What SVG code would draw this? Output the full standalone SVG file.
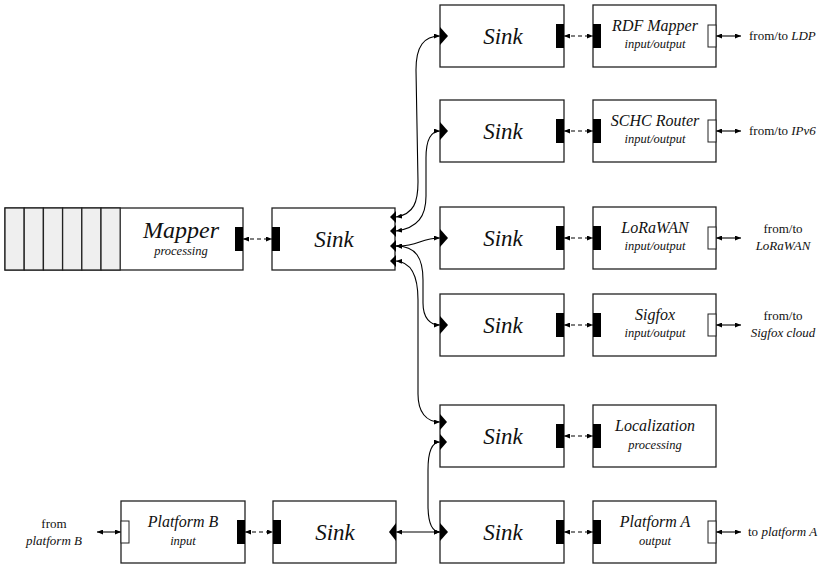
<svg xmlns="http://www.w3.org/2000/svg" width="822" height="565" viewBox="0 0 822 565">
<defs>
<marker id="ah" viewBox="0 0 10 10" refX="10" refY="5" markerWidth="6" markerHeight="5" markerUnits="userSpaceOnUse" orient="auto-start-reverse" preserveAspectRatio="none">
<path d="M0,0 L10,5 L0,10 Z" fill="#000"/>
</marker>
</defs>

<g id="connectors" fill="none" stroke="#000" stroke-width="1.1" marker-start="url(#ah)" marker-end="url(#ah)">
<g stroke-dasharray="4 3" stroke-width="1.2">
<line x1="243" y1="239" x2="272" y2="239"/>
<line x1="564" y1="36" x2="593" y2="36"/>
<line x1="564" y1="131" x2="593" y2="131"/>
<line x1="564" y1="238" x2="593" y2="238"/>
<line x1="564" y1="325" x2="593" y2="325"/>
<line x1="564" y1="436" x2="593" y2="436"/>
<line x1="564" y1="532" x2="593" y2="532"/>
<line x1="245" y1="532" x2="273" y2="532"/>
</g>
<line x1="716" y1="36" x2="741" y2="36"/>
<line x1="716" y1="131" x2="741" y2="131"/>
<line x1="716" y1="238" x2="741" y2="238"/>
<line x1="716" y1="325" x2="741" y2="325"/>
<line x1="716" y1="532" x2="741" y2="532"/>
<line x1="97" y1="532" x2="121" y2="532"/>
<line x1="396" y1="532" x2="440" y2="532"/>
<path d="M396,217 C414,214 418,202 418,182 L416,70 C416,46 424,36 440,36"/>
<path d="M396,231 C418,228 426,216 426,196 L426,158 C426,140 430,131 440,131"/>
<path d="M396,246 C418,247 420,238 440,238"/>
<path d="M396,246 C416,246 423,258 423,280 L423,303 C423,318 430,325 440,325"/>
<path d="M396,261 C412,262 418,276 418,300 L418,394 C418,412 426,422 440,422"/>
<path d="M440,442 C432,442 428,452 428,470 L428,505 C428,522 432,532 440,532"/>
</g>

<g id="mapper">
<rect x="5" y="208" width="238" height="62" fill="#fff" stroke="#222" stroke-width="1.3"/>
<g fill="#efefef" stroke="#222" stroke-width="1.3">
<rect x="5" y="208" width="19.2" height="62"/>
<rect x="24.2" y="208" width="19.2" height="62"/>
<rect x="43.4" y="208" width="19.2" height="62"/>
<rect x="62.6" y="208" width="19.2" height="62"/>
<rect x="81.8" y="208" width="19.2" height="62"/>
<rect x="101" y="208" width="19.2" height="62"/>
</g>
<rect x="235" y="227" width="8" height="24" fill="#000"/>
<text x="181" y="238" font-family="Liberation Serif" font-style="italic" font-size="24" text-anchor="middle" fill="#111">Mapper</text>
<text x="181" y="255" font-family="Liberation Serif" font-style="italic" font-size="12.5" text-anchor="middle" fill="#111">processing</text>
</g>

<g id="sink-center">
<rect x="272" y="208" width="123" height="62" fill="#fff" stroke="#222" stroke-width="1.3"/>
<rect x="272" y="227" width="8" height="24" fill="#000"/>
<polygon points="396,211 390,217 396,223" fill="#000"/>
<polygon points="396,225 390,231 396,237" fill="#000"/>
<polygon points="396,240 390,246 396,252" fill="#000"/>
<polygon points="396,255 390,261 396,267" fill="#000"/>
<text x="334" y="247" font-family="Liberation Serif" font-style="italic" font-size="23" text-anchor="middle" fill="#111">Sink</text>
</g>

<g id="sink1">
<rect x="440" y="5" width="124" height="62" fill="#fff" stroke="#222" stroke-width="1.3"/>
<polygon points="440,27 448,36 440,45" fill="#000"/>
<rect x="556" y="24" width="8" height="24" fill="#000"/>
<text x="503" y="44" font-family="Liberation Serif" font-style="italic" font-size="23" text-anchor="middle" fill="#111">Sink</text>
</g>
<g id="rdf-mapper">
<rect x="593" y="5" width="123" height="62" fill="#fff" stroke="#222" stroke-width="1.3"/>
<rect x="593" y="24" width="8" height="24" fill="#000"/>
<rect x="708" y="25" width="8" height="22" fill="#fff" stroke="#222"/>
<text x="655" y="31" font-family="Liberation Serif" font-style="italic" font-size="16" text-anchor="middle" fill="#111">RDF Mapper</text>
<text x="655" y="48" font-family="Liberation Serif" font-style="italic" font-size="12.5" text-anchor="middle" fill="#111">input/output</text>
</g>
<text x="749" y="40" font-family="Liberation Serif" font-size="13" fill="#111">from/to <tspan font-style="italic">LDP</tspan></text>

<g id="sink2">
<rect x="440" y="100" width="124" height="62" fill="#fff" stroke="#222" stroke-width="1.3"/>
<polygon points="440,122 448,131 440,140" fill="#000"/>
<rect x="556" y="119" width="8" height="24" fill="#000"/>
<text x="503" y="139" font-family="Liberation Serif" font-style="italic" font-size="23" text-anchor="middle" fill="#111">Sink</text>
</g>
<g id="schc-router">
<rect x="593" y="100" width="123" height="62" fill="#fff" stroke="#222" stroke-width="1.3"/>
<rect x="593" y="119" width="8" height="24" fill="#000"/>
<rect x="708" y="120" width="8" height="22" fill="#fff" stroke="#222"/>
<text x="655" y="126" font-family="Liberation Serif" font-style="italic" font-size="16" text-anchor="middle" fill="#111">SCHC Router</text>
<text x="655" y="143" font-family="Liberation Serif" font-style="italic" font-size="12.5" text-anchor="middle" fill="#111">input/output</text>
</g>
<text x="749" y="135" font-family="Liberation Serif" font-size="13" fill="#111">from/to <tspan font-style="italic">IPv6</tspan></text>

<g id="sink3">
<rect x="440" y="207" width="124" height="62" fill="#fff" stroke="#222" stroke-width="1.3"/>
<polygon points="440,229 448,238 440,247" fill="#000"/>
<rect x="556" y="226" width="8" height="24" fill="#000"/>
<text x="503" y="246" font-family="Liberation Serif" font-style="italic" font-size="23" text-anchor="middle" fill="#111">Sink</text>
</g>
<g id="lorawan">
<rect x="593" y="207" width="123" height="62" fill="#fff" stroke="#222" stroke-width="1.3"/>
<rect x="593" y="226" width="8" height="24" fill="#000"/>
<rect x="708" y="227" width="8" height="22" fill="#fff" stroke="#222"/>
<text x="655" y="233" font-family="Liberation Serif" font-style="italic" font-size="16" text-anchor="middle" fill="#111">LoRaWAN</text>
<text x="655" y="250" font-family="Liberation Serif" font-style="italic" font-size="12.5" text-anchor="middle" fill="#111">input/output</text>
</g>
<text x="783" y="233" font-family="Liberation Serif" font-size="13" text-anchor="middle" fill="#111">from/to</text>
<text x="783" y="250" font-family="Liberation Serif" font-style="italic" font-size="13" text-anchor="middle" fill="#111">LoRaWAN</text>

<g id="sink4">
<rect x="440" y="294" width="124" height="62" fill="#fff" stroke="#222" stroke-width="1.3"/>
<polygon points="440,316 448,325 440,334" fill="#000"/>
<rect x="556" y="313" width="8" height="24" fill="#000"/>
<text x="503" y="333" font-family="Liberation Serif" font-style="italic" font-size="23" text-anchor="middle" fill="#111">Sink</text>
</g>
<g id="sigfox">
<rect x="593" y="294" width="123" height="62" fill="#fff" stroke="#222" stroke-width="1.3"/>
<rect x="593" y="313" width="8" height="24" fill="#000"/>
<rect x="708" y="314" width="8" height="22" fill="#fff" stroke="#222"/>
<text x="655" y="320" font-family="Liberation Serif" font-style="italic" font-size="16" text-anchor="middle" fill="#111">Sigfox</text>
<text x="655" y="337" font-family="Liberation Serif" font-style="italic" font-size="12.5" text-anchor="middle" fill="#111">input/output</text>
</g>
<text x="783" y="320" font-family="Liberation Serif" font-size="13" text-anchor="middle" fill="#111">from/to</text>
<text x="783" y="337" font-family="Liberation Serif" font-style="italic" font-size="13" text-anchor="middle" fill="#111">Sigfox cloud</text>

<g id="sink5">
<rect x="440" y="405" width="124" height="62" fill="#fff" stroke="#222" stroke-width="1.3"/>
<polygon points="440,414 447,422 440,430" fill="#000"/>
<polygon points="440,434 447,442 440,450" fill="#000"/>
<rect x="556" y="424" width="8" height="24" fill="#000"/>
<text x="503" y="444" font-family="Liberation Serif" font-style="italic" font-size="23" text-anchor="middle" fill="#111">Sink</text>
</g>
<g id="localization">
<rect x="593" y="405" width="123" height="62" fill="#fff" stroke="#222" stroke-width="1.3"/>
<rect x="593" y="424" width="8" height="24" fill="#000"/>
<text x="655" y="431" font-family="Liberation Serif" font-style="italic" font-size="16" text-anchor="middle" fill="#111">Localization</text>
<text x="655" y="449" font-family="Liberation Serif" font-style="italic" font-size="12.5" text-anchor="middle" fill="#111">processing</text>
</g>

<g id="sink6">
<rect x="440" y="501" width="124" height="62" fill="#fff" stroke="#222" stroke-width="1.3"/>
<polygon points="440,523 448,532 440,541" fill="#000"/>
<rect x="556" y="520" width="8" height="24" fill="#000"/>
<text x="503" y="540" font-family="Liberation Serif" font-style="italic" font-size="23" text-anchor="middle" fill="#111">Sink</text>
</g>
<g id="platform-a">
<rect x="593" y="501" width="123" height="62" fill="#fff" stroke="#222" stroke-width="1.3"/>
<rect x="593" y="520" width="8" height="24" fill="#000"/>
<rect x="708" y="521" width="8" height="22" fill="#fff" stroke="#222"/>
<text x="655" y="527" font-family="Liberation Serif" font-style="italic" font-size="16" text-anchor="middle" fill="#111">Platform A</text>
<text x="655" y="545" font-family="Liberation Serif" font-style="italic" font-size="12.5" text-anchor="middle" fill="#111">output</text>
</g>
<text x="748" y="536" font-family="Liberation Serif" font-size="13" fill="#111">to <tspan font-style="italic">platform A</tspan></text>

<g id="sink-bottom">
<rect x="273" y="501" width="123" height="62" fill="#fff" stroke="#222" stroke-width="1.3"/>
<rect x="273" y="520" width="8" height="24" fill="#000"/>
<polygon points="396,523 389,532 396,541" fill="#000"/>
<text x="335" y="540" font-family="Liberation Serif" font-style="italic" font-size="23" text-anchor="middle" fill="#111">Sink</text>
</g>
<g id="platform-b">
<rect x="121" y="501" width="124" height="62" fill="#fff" stroke="#222" stroke-width="1.3"/>
<rect x="121" y="521" width="8" height="22" fill="#fff" stroke="#222"/>
<rect x="237" y="520" width="8" height="24" fill="#000"/>
<text x="183" y="527" font-family="Liberation Serif" font-style="italic" font-size="16" text-anchor="middle" fill="#111">Platform B</text>
<text x="183" y="545" font-family="Liberation Serif" font-style="italic" font-size="12.5" text-anchor="middle" fill="#111">input</text>
</g>
<text x="54" y="528" font-family="Liberation Serif" font-size="13" text-anchor="middle" fill="#111">from</text>
<text x="54" y="545" font-family="Liberation Serif" font-style="italic" font-size="13" text-anchor="middle" fill="#111">platform B</text>
</svg>
